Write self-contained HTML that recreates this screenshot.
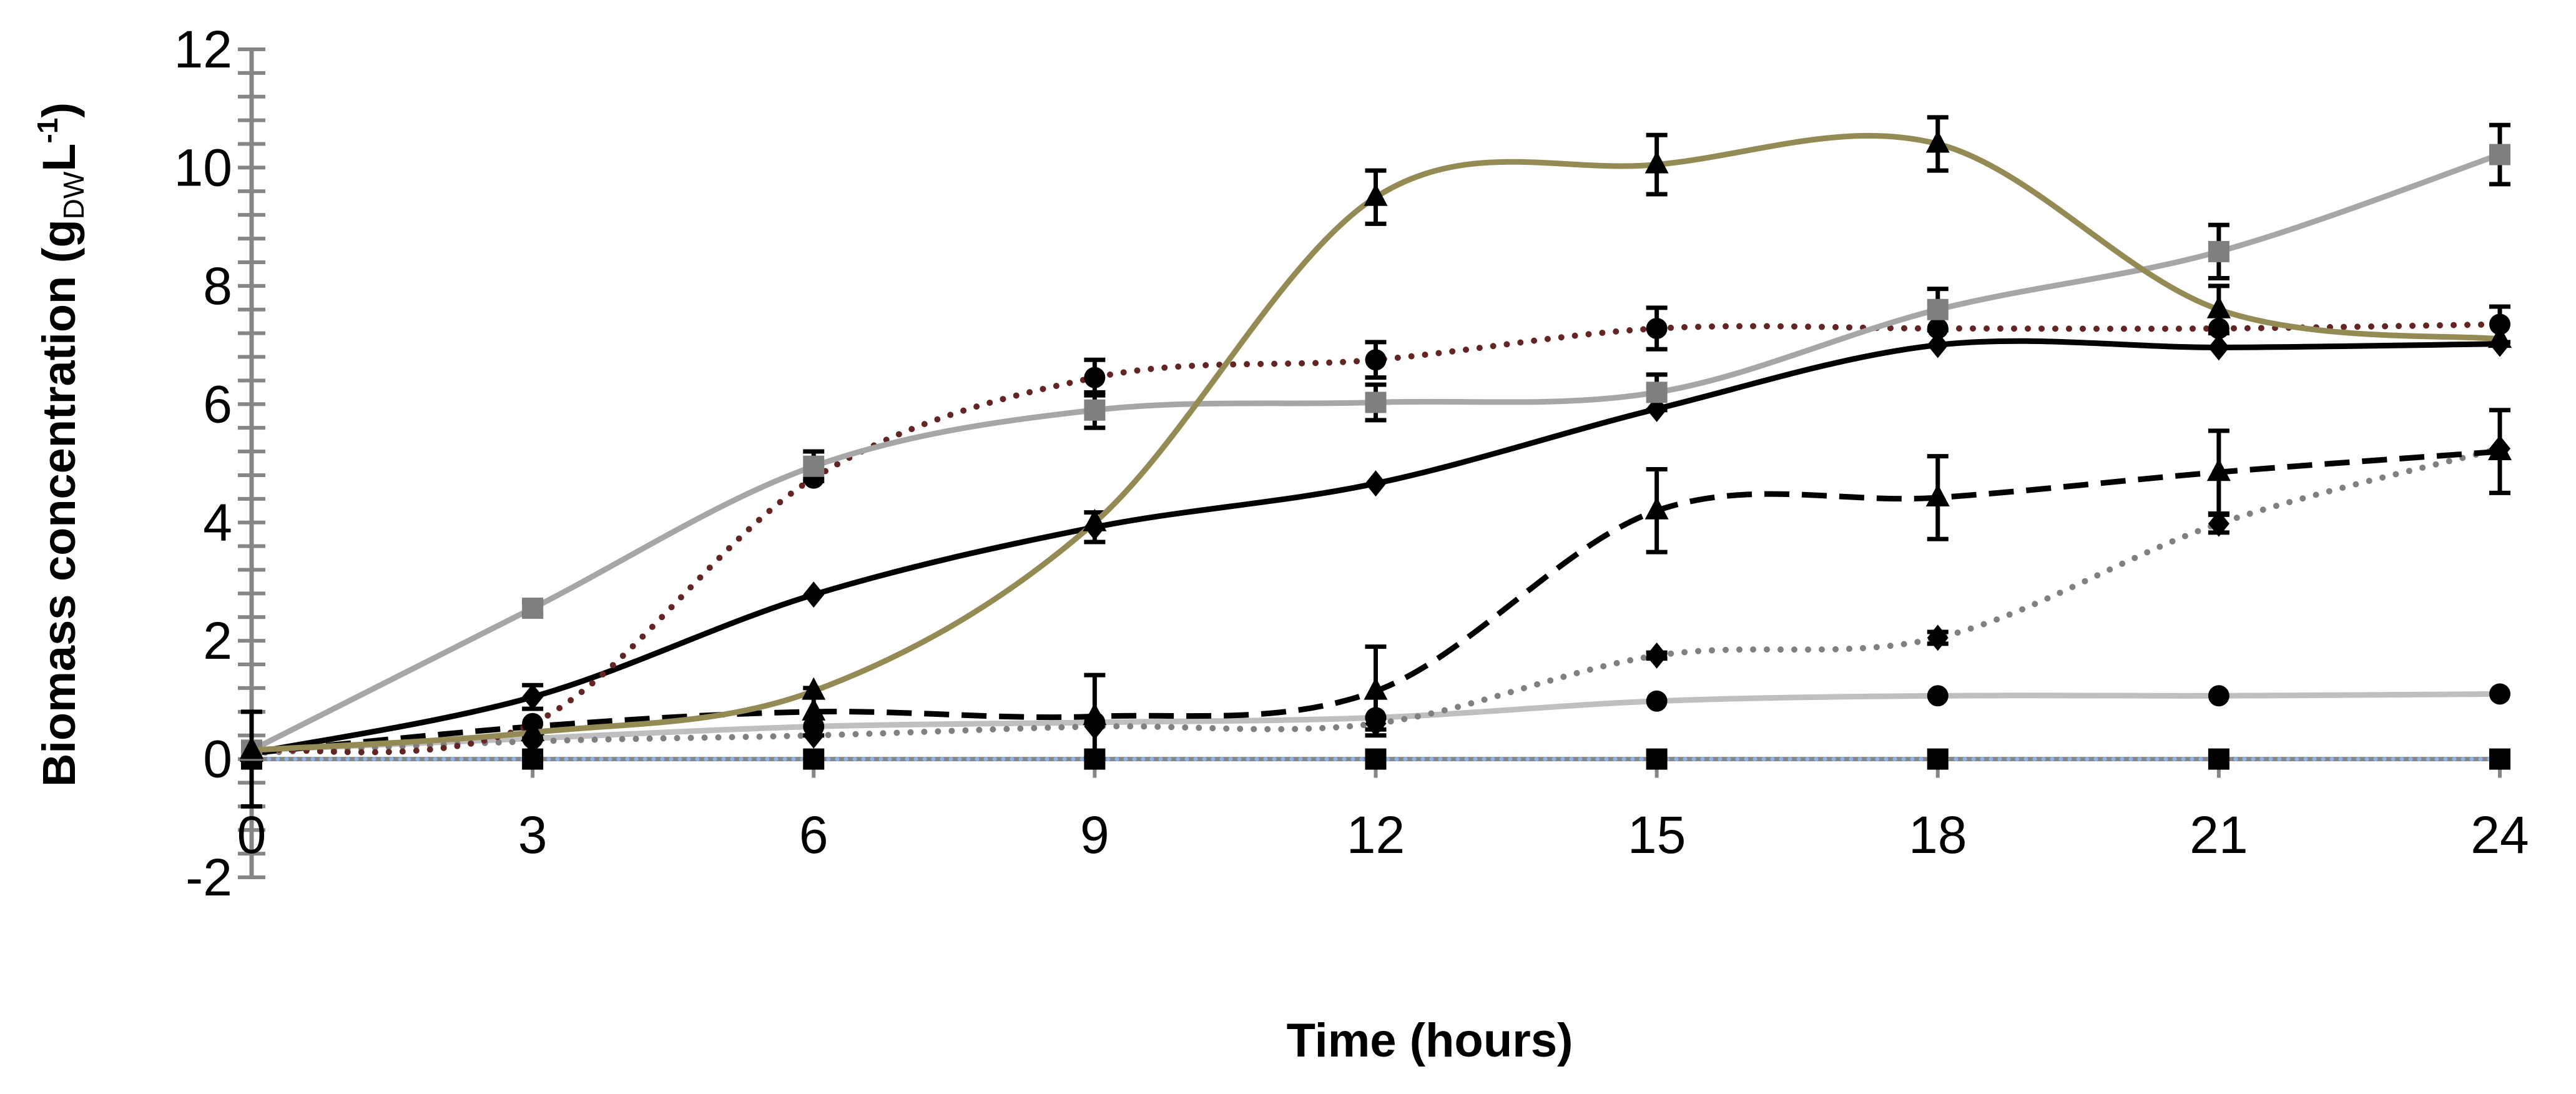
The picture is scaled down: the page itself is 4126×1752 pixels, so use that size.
<!DOCTYPE html>
<html><head><meta charset="utf-8">
<style>
html,body{margin:0;padding:0;background:#fff;}
svg{display:block;}
text{font-family:"Liberation Sans",sans-serif;}
</style></head>
<body>
<svg id="chart" width="4126" height="1752" viewBox="0 0 4126 1752" xmlns="http://www.w3.org/2000/svg">
<rect width="4126" height="1752" fill="#fff"/>
<g id="axes"></g>
<g id="series"></g>
<text x="2290" y="1692" text-anchor="middle" font-size="76" font-weight="bold">Time (hours)</text>
<text transform="translate(120,712) rotate(-90)" text-anchor="middle" font-size="74" font-weight="bold">Biomass concentration (g<tspan font-size="46" dy="14" font-weight="normal">DW</tspan><tspan dy="-14">L</tspan><tspan font-size="46" dy="-28">-1</tspan><tspan dy="28">)</tspan></text>
</svg>
<script>
const xCats = [0,3,6,9,12,15,18,21,24];
const yTicks = [-2,0,2,4,6,8,10,12];
const xTickLabels = ["0","3","6","9","12","15","18","21","24"];
const olive = [0.15,0.45,1.15,4.0,9.5,10.05,10.4,7.6,7.1];
const oliveErr = [0,0,0,0,0.45,0.5,0.45,0.4,0];
const graySq = [0.15,2.55,4.95,5.9,6.03,6.2,7.6,8.58,10.22];
const graySqErr = [0,0.1,0.25,0.3,0.3,0.3,0.35,0.45,0.5];
const redDot = [0.15,0.6,4.75,6.45,6.75,7.28,7.28,7.28,7.35];
const redDotErr = [0,0,0,0.3,0.3,0.35,0,0,0.3];
const blackDia = [0.1,1.05,2.78,3.92,4.66,5.92,7.0,6.96,7.02];
const blackDiaErr = [0,0.2,0,0.25,0,0,0,0,0];
const blackDash = [0.1,0.55,0.8,0.72,1.15,4.2,4.42,4.85,5.2];
const blackDashErr = [0,0,0.4,0.7,0.75,0.7,0.7,0.7,0.7];
const grayDot = [0.1,0.3,0.4,0.55,0.6,1.75,2.05,3.98,5.25];
const grayDotErr = [0,0,0,0,0.1,0.05,0.1,0.15,0];
const lightCirc = [0.15,0.35,0.55,0.62,0.7,0.98,1.07,1.07,1.1];
const blueSq = [0,0,0,0,0,0,0,0,0];
const blueSqErr = [0.8,0,0,0,0,0,0,0,0];

const NS="http://www.w3.org/2000/svg";
const X0=403, X1=4004, Y0=1215.6, PU=94.72;
function xs(v){return X0+(v-0)/(24-0)*(X1-X0);}
function ys(v){return Y0-v*PU;}
function mk(tag,attrs,parent){const e=document.createElementNS(NS,tag);for(const k in attrs)e.setAttribute(k,attrs[k]);parent.appendChild(e);return e;}
const axes=document.getElementById('axes');
const ser=document.getElementById('series');

const yl=mk('line',{x1:X0,y1:ys(12),x2:X0,y2:ys(-2),stroke:'#868686','stroke-width':7},axes);


for(let v=-2;v<=12.001;v+=0.4){
  const t=mk('line',{x1:X0-22,y1:ys(v),x2:X0+22,y2:ys(v),stroke:'#868686','stroke-width':6},axes);
  
  
}
yTicks.forEach(v=>{
  const t=mk('text',{x:372,y:ys(v)+29,'text-anchor':'end','font-size':84},axes);
  t.textContent=String(v);
  
  
});
const xl=mk('line',{x1:X0,y1:Y0,x2:X1,y2:Y0,stroke:'#868686','stroke-width':7},axes);


xCats.forEach((v,i)=>{
  const t=mk('line',{x1:xs(v),y1:Y0,x2:xs(v),y2:Y0+30,stroke:'#868686','stroke-width':6},axes);
  
  
  const l=mk('text',{x:xs(v),y:1366,'text-anchor':'middle','font-size':84},axes);
  l.textContent=xTickLabels[i];
  
  
});

function smoothPath(vals){
  const p=vals.map((v,i)=>[xs(xCats[i]),ys(v)]);
  let d='M'+p[0][0]+','+p[0][1];
  for(let i=0;i<p.length-1;i++){
    const p0=p[Math.max(0,i-1)],p1=p[i],p2=p[i+1],p3=p[Math.min(p.length-1,i+2)];
    const c1=[p1[0]+(p2[0]-p0[0])/6,p1[1]+(p2[1]-p0[1])/6];
    const c2=[p2[0]-(p3[0]-p1[0])/6,p2[1]-(p3[1]-p1[1])/6];
    d+=' C'+c1+' '+c2+' '+p2;
  }
  return d;
}
function marker(shape,x,y,fill,g){
  const s=17;
  if(shape==='sq') return mk('rect',{x:x-s,y:y-s,width:2*s,height:2*s,fill:fill},g);
  if(shape==='circ') return mk('circle',{cx:x,cy:y,r:s,fill:fill},g);
  if(shape==='tri') return mk('polygon',{points:`${x},${y-22} ${x-19},${y+14} ${x+19},${y+14}`,fill:fill},g);
  if(shape==='dia') return mk('polygon',{points:`${x},${y-21} ${x+17},${y} ${x},${y+21} ${x-17},${y}`,fill:fill},g);
}
function drawSeries(name,vals,errs,color,dash,width,shape,mfill){
  const g=mk('g',{},ser);
  
  
  const path=mk('path',{d:smoothPath(vals),fill:'none',stroke:color,'stroke-width':width,'stroke-dasharray':dash,'stroke-linecap':dash&&dash.startsWith('0')?'round':'butt'},g);
  
  
  vals.forEach((v,i)=>{
    const x=xs(xCats[i]),y=ys(v);
    const e=errs?errs[i]:0;
    if(e>0){
      const eb=mk('path',{d:`M${x},${ys(v+e)} V${ys(v-e)} M${x-17},${ys(v+e)} H${x+17} M${x-17},${ys(v-e)} H${x+17}`,stroke:'#000','stroke-width':7,fill:'none'},g);
      
      
    }
    const m=marker(shape,x,y,mfill,g);
    
    
  });
}
drawSeries('series-light-blue',blueSq,blueSqErr,'#8DB4E2','0 14',7,'sq','#000');
drawSeries('series-light-gray-circles',lightCirc,null,'#BFBFBF','',9,'circ','#000');
drawSeries('series-gray-dotted',grayDot,grayDotErr,'#808080','0 22',10,'dia','#000');
drawSeries('series-black-dashed',blackDash,blackDashErr,'#000','40 20',9,'tri','#000');
drawSeries('series-black-diamonds',blackDia,blackDiaErr,'#000','',9,'dia','#000');
drawSeries('series-red-dotted',redDot,redDotErr,'#632523','0 22',10,'circ','#000');
drawSeries('series-gray-squares',graySq,graySqErr,'#A6A6A6','',9,'sq','#7F7F7F');
drawSeries('series-olive',olive,oliveErr,'#948A54','',9,'tri','#000');
</script>
</body></html>
